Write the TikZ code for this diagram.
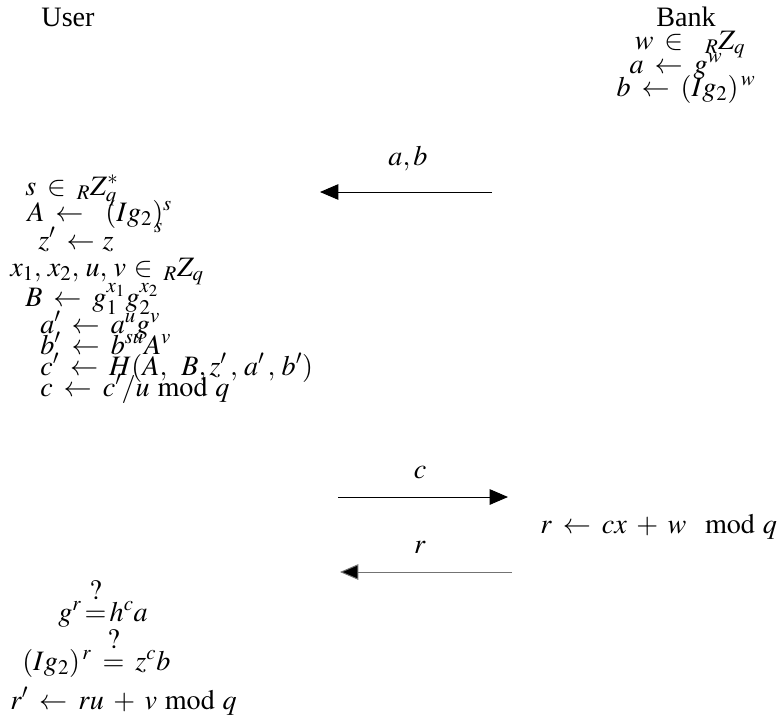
\documentclass[tikz,border=0pt]{standalone}
\usepackage{mathptmx}
\usepackage[no-math]{fontspec}
\setmainfont{Liberation Serif}
\usepackage{tikz}
\usetikzlibrary{arrows.meta}
\medmuskip=6mu plus 2mu minus 2mu
\thickmuskip=7mu plus 3mu
\newcommand{\qmark}{\raisebox{4pt}{$\textstyle ?$}}
\newcommand{\qeq}{\mathrel{\stackrel{\qmark}{=}}}
\newcommand{\qeqt}{{\stackrel{\qmark}{=}}}
\tikzset{
  msg/.style={line width=0.7pt, draw=black, -{Triangle[length=13pt, width=11pt]}},
  msggray/.style={line width=0.7pt, draw=black!55, -{Triangle[length=13pt, width=11pt, fill=black]}},
  calc/.style={anchor=base west, inner sep=0pt, font=\fontsize{20}{24}\selectfont},
  calcc/.style={anchor=base, inner sep=0pt, font=\fontsize{20}{24}\selectfont},
  party/.style={anchor=base, inner sep=0pt, font=\fontsize{20}{24}\selectfont},
}

\begin{document}
\begin{tikzpicture}[x=0.025cm, y=-0.025cm]
\useasboundingbox (0,0) rectangle (784,719);
% parties
\node[party] (user) at (68,26) {User};
\node[party] (bank) at (686,26) {Bank};
% bank setup
\node[calcc] (bw) at (690,49) {$w \in\; {}_R Z_{q}$};
\node[calcc] (ba) at (676,73) {$a \leftarrow g^{w}$};
\node[calcc] (bb) at (686,96) {$b \leftarrow (Ig_2)^{\,w}$};
% message a,b
\coordinate (ab1) at (492,192);
\coordinate (ab2) at (320,192);
\draw[msg] (ab1) -- (ab2);
\node[calcc] (lab) at (408,165) {$a, b$};
% user blinding
\node[calc] (us) at (25,195) {$s \in {}_R Z_q^{*}$};
\node[calc] (uA) at (27,221) {$A \leftarrow\; (Ig_2)^{s}$};
\node[calc] (uz) at (38,249) {$z' \leftarrow\! z\hspace{1.45em}\raisebox{0.6em}{$\scriptstyle s$}$};
\node[calc] (ux) at (10,276) {$x_1,\, x_2,\, u,\, v\!\in {}_R Z_q$};
\node[calc] (uB) at (25,306) {$B \leftarrow g_1^{x_1} g_2^{x_2}$};
\node[calc] (ua) at (40,333) {$a' \leftarrow a^{u} g^{v}$};
\node[calc] (ub) at (40,354) {$b' \leftarrow b^{su} A^{v}$};
\node[calc] (uc1) at (40,375) {$c' \leftarrow H(A,\; B,z'\,,\,a'\,,\,b')$};
\node[calc] (uc) at (40,396) {$c \leftarrow c'/u \bmod q$};
% message c
\coordinate (c1) at (338,497);
\coordinate (c2) at (508,497);
\draw[msg] (c1) -- (c2);
\node[calcc] (lc) at (420,478) {$c$};
% bank response
\node[calc] (br) at (540,533) {$r \leftarrow cx + w \;\bmod q$};
% message r
\coordinate (r1) at (512,572);
\coordinate (r2) at (340,572);
\draw[msggray] (r1) -- (r2);
\node[calcc] (lr) at (420,553) {$r$};
% user checks
\node[calc] (vg) at (58,621) {$g^{r}\,\qeqt\, h^{c} a$};
\node[calc] (vI) at (22,670) {$(Ig_2)^{\,r} \qeq z^{c} b$};
\node[calc] (vr) at (10,709) {$r' \leftarrow ru + v \bmod q$};
\end{tikzpicture}
\end{document}
